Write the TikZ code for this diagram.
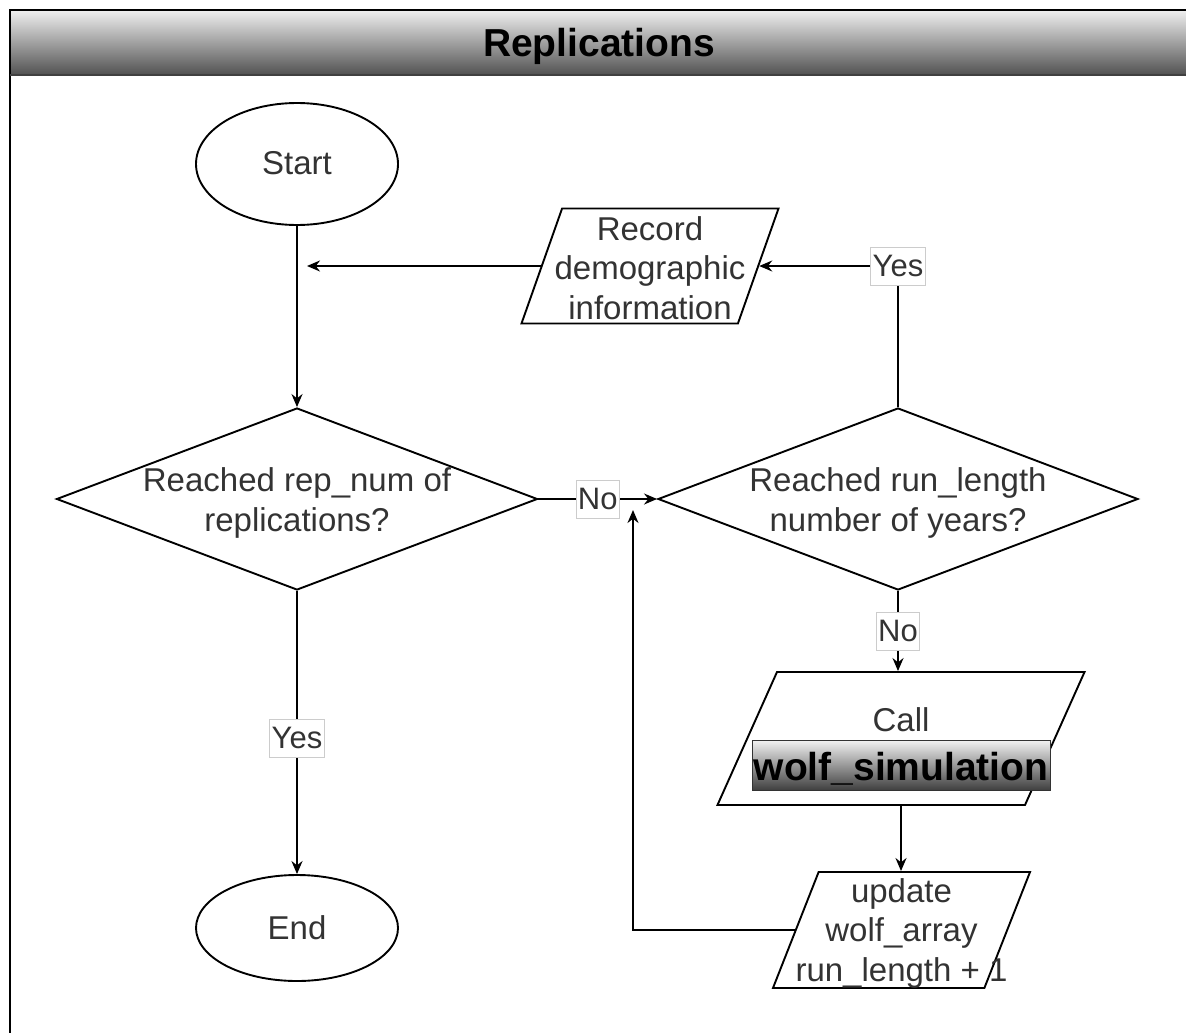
\documentclass[tikz,border=0pt]{standalone}
\usepackage{fontspec}
\setmainfont{Liberation Sans}
\usetikzlibrary{positioning, shapes.geometric, arrows.meta}
\definecolor{inkgray}{HTML}{333333}

\begin{document}
\begin{tikzpicture}[x=1pt, y=-1pt, line width=1.9pt,
    txt/.style={text=inkgray, align=center, font=\fontsize{33}{39.5}\selectfont},
    term/.style={draw, ellipse, minimum width=202pt, txt},
    decide/.style={draw, diamond, inner sep=0pt, minimum width=481pt, minimum height=182pt},
    iobox/.style={draw, trapezium, trapezium stretches=true, inner sep=1pt,
      trapezium left angle=#1, trapezium right angle=180-#1},
    iobox/.default=77,
    tag/.style={draw=black!20, line width=0.8pt, fill=white, inner sep=2pt, minimum height=38pt,
      text=inkgray, font=\fontsize{31}{34}\selectfont},
    arr/.style={-{Stealth[length=13pt, width=11pt]}}]
    \useasboundingbox (0,0) rectangle (1186,1033);
    % frame with header
    \shade[top color=black!6, bottom color=black!68] (10,10) rectangle (1186,75);
    \draw (10,1033) -- (10,10) -- (1186,10);
    \draw[black!75, line width=2pt] (10,75) -- (1186,75);
    \node[font=\bfseries\fontsize{39}{44}\selectfont] (title) at (599,46) {Replications};

    \node[term, minimum height=122pt] (start) at (297,164) {\raisebox{3pt}{Start}};
    \node[term, minimum height=106pt] (end) at (297,928) {End};
    \node[decide, label={[txt, yshift=-4pt]center:Reached rep\_num of\\replications?}] (reps) at (297,499) {};
    \node[decide, minimum width=480pt, label={[txt, yshift=-4pt]center:Reached run\_length\\number of years?}] (years) at (898,499) {};
    \node[iobox=77, minimum width=257pt, minimum height=115pt,
      label={[txt, yshift=-2pt]center:Record\\demographic\\information}] (record) at (650,266) {};
    \node[iobox=76.5, minimum width=367pt, minimum height=133pt] (call) at (901,738.5) {};
    \node[txt] (calltxt) at (901,720) {Call};
    \node[draw=black!80, line width=1pt, top color=black!5, bottom color=black!75, inner sep=0pt,
      text height=34pt, text depth=4pt,
      minimum width=298pt, minimum height=50pt, font=\bfseries\fontsize{39}{44}\selectfont] (wolfsim) at (901,765) {wolf\_simulation};
    \node[iobox=74.6, minimum width=257pt, minimum height=116pt,
      label={[txt, yshift=-3pt]center:update\\wolf\_array\\run\_length + 1}] (update) at (901.5,930) {};

    \coordinate (join) at (307,266);
    \coordinate (back) at (633,510);
    \draw[arr] (start.south) -- (reps.north);
    \draw[arr] (record.left side) -- (join);
    \draw[arr] (reps.east) -- node[tag] {No} (years.west);
    \draw[arr] (reps.south) -- node[tag, pos=0.52] {Yes} (end.north);
    \draw[arr] (years.north) |- node[tag] {Yes} (record.right side);
    \draw[arr] (years.south) -- node[tag] {No} (years.south |- call.top side);
    \draw[arr] (call.south) -- (call.south |- update.north);
    \draw[arr] (update.left side) -| (back);
  \end{tikzpicture}
\end{document}
